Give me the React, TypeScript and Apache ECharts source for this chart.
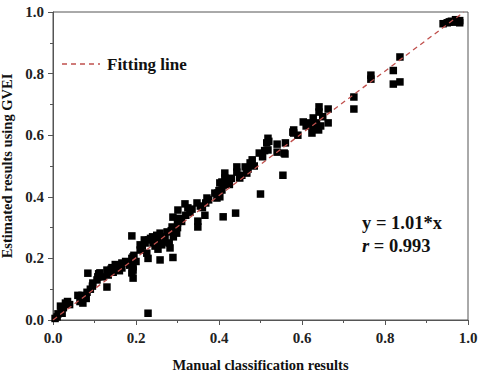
import React, { useEffect, useRef } from "react";
import * as echarts from "echarts";

const xTicks = [0.0, 0.2, 0.4, 0.6, 0.8, 1.0];
const slope = 1.01;
const fitLabel = "Fitting line";
const equationText = "y = 1.01*x";
const rText = "0.993";

const points: number[][] = [
  [0.005, 0.005], [0.01, 0.01], [0.012, 0.02], [0.02, 0.03], [0.018, 0.045], [0.025, 0.04], [0.03, 0.055], [0.035, 0.06], [0.022, 0.022], [0.04, 0.05],
  [0.06, 0.08], [0.065, 0.06], [0.07, 0.08], [0.072, 0.055], [0.08, 0.07], [0.082, 0.09], [0.084, 0.152], [0.09, 0.1], [0.095, 0.11], [0.096, 0.12],
  [0.106, 0.13], [0.108, 0.14], [0.11, 0.15], [0.113, 0.153], [0.12, 0.14], [0.13, 0.162], [0.13, 0.107], [0.133, 0.146], [0.14, 0.165], [0.142, 0.17],
  [0.145, 0.155], [0.15, 0.18], [0.154, 0.178], [0.16, 0.16], [0.166, 0.185], [0.166, 0.169], [0.175, 0.19], [0.185, 0.178], [0.19, 0.153], [0.19, 0.2],
  [0.19, 0.273], [0.193, 0.173], [0.193, 0.136], [0.193, 0.162], [0.193, 0.205], [0.195, 0.21], [0.2, 0.19],
  [0.21, 0.244], [0.21, 0.227], [0.215, 0.24], [0.22, 0.26], [0.222, 0.25], [0.226, 0.217], [0.229, 0.2], [0.229, 0.022], [0.23, 0.26], [0.235, 0.265],
  [0.24, 0.27], [0.241, 0.25], [0.245, 0.255], [0.246, 0.24], [0.25, 0.275], [0.253, 0.23], [0.255, 0.26], [0.258, 0.282], [0.258, 0.195], [0.262, 0.244],
  [0.265, 0.253], [0.27, 0.27], [0.275, 0.286], [0.28, 0.25], [0.282, 0.234], [0.285, 0.29], [0.287, 0.302], [0.289, 0.334], [0.289, 0.203], [0.29, 0.27],
  [0.298, 0.282], [0.3, 0.315], [0.3, 0.3],
  [0.301, 0.357], [0.305, 0.33], [0.31, 0.32], [0.318, 0.377], [0.32, 0.34], [0.325, 0.364], [0.33, 0.35], [0.335, 0.36], [0.347, 0.38], [0.349, 0.321],
  [0.349, 0.302], [0.355, 0.37], [0.36, 0.365], [0.366, 0.34], [0.368, 0.38], [0.371, 0.396], [0.375, 0.39], [0.39, 0.412], [0.395, 0.396], [0.397, 0.412],
  [0.402, 0.4], [0.4, 0.42],
  [0.407, 0.422], [0.41, 0.438], [0.41, 0.335], [0.402, 0.445], [0.407, 0.448], [0.414, 0.461], [0.414, 0.477], [0.42, 0.455], [0.425, 0.44], [0.43, 0.46],
  [0.44, 0.347], [0.443, 0.48], [0.443, 0.497], [0.45, 0.461], [0.455, 0.47], [0.463, 0.497], [0.467, 0.477], [0.47, 0.49], [0.475, 0.51], [0.48, 0.52],
  [0.485, 0.5], [0.497, 0.542], [0.5, 0.409],
  [0.505, 0.53], [0.51, 0.55], [0.515, 0.575], [0.518, 0.59], [0.518, 0.552], [0.52, 0.58], [0.54, 0.571], [0.54, 0.545], [0.554, 0.47], [0.557, 0.542],
  [0.559, 0.539], [0.56, 0.575], [0.578, 0.61], [0.58, 0.617], [0.58, 0.607], [0.59, 0.6],
  [0.603, 0.643], [0.61, 0.63], [0.62, 0.64], [0.624, 0.607], [0.627, 0.656], [0.627, 0.623], [0.635, 0.64], [0.64, 0.617], [0.641, 0.675], [0.641, 0.692],
  [0.645, 0.63], [0.65, 0.66], [0.663, 0.685], [0.663, 0.64],
  [0.725, 0.724], [0.725, 0.685], [0.766, 0.795], [0.766, 0.782], [0.82, 0.81], [0.82, 0.766], [0.836, 0.773], [0.836, 0.854],
  [0.94, 0.962], [0.95, 0.965], [0.955, 0.968], [0.96, 0.97], [0.965, 0.967], [0.97, 0.975], [0.975, 0.97], [0.98, 0.965], [0.98, 0.972],
];

const FONT = "'Liberation Serif', 'Times New Roman', serif";

export default function App() {
  const ref = useRef<HTMLDivElement>(null);
  useEffect(() => {
    if (!ref.current) return;
    const chart = echarts.init(ref.current, null, { renderer: "svg" });
    const axisCommon = {
      min: xTicks[0],
      max: xTicks[xTicks.length - 1],
      interval: 0.2,
      nameLocation: "middle" as const,
      nameTextStyle: { fontFamily: FONT, fontWeight: "bold", fontSize: 14.5, color: "#111" },
      axisLine: { show: true, onZero: false, lineStyle: { color: "#555", width: 1 } },
      axisTick: { show: true, inside: false, length: 5, lineStyle: { color: "#555" } },
      minorTick: { show: true, splitNumber: 2, length: 3, lineStyle: { color: "#555" } },
      splitLine: { show: false },
      axisLabel: {
        fontFamily: FONT,
        fontWeight: "bold",
        fontSize: 15,
        color: "#222",
        formatter: (v: number) => v.toFixed(1),
      },
    };
    chart.setOption({
      animation: false,
      backgroundColor: "#fff",
      grid: {
        left: 53,
        right: 12,
        top: 12,
        bottom: 51,
        show: true,
        borderColor: "#555",
        borderWidth: 1,
        containLabel: false,
        outerBoundsMode: "none",
      },
      xAxis: {
        ...axisCommon,
        type: "value",
        name: "Manual classification results",
        nameGap: 37,
        axisLabel: { ...axisCommon.axisLabel, margin: 10 },
      },
      yAxis: {
        ...axisCommon,
        type: "value",
        name: "Estimated results using GVEI",
        nameGap: 34,
        axisLabel: { ...axisCommon.axisLabel, margin: 9 },
      },
      series: [
        {
          type: "scatter",
          data: points,
          symbol: "rect",
          symbolSize: 7.5,
          itemStyle: { color: "#000", opacity: 1 },
          z: 2,
        },
        {
          type: "line",
          name: fitLabel,
          data: [
            [0, 0],
            [1 / slope, 1],
          ],
          showSymbol: false,
          symbol: "none",
          lineStyle: { color: "#c0504d", width: 1.3, type: [5, 4] },
          z: 3,
        },
      ],
      graphic: [
        {
          type: "line",
          shape: { x1: 62, y1: 64, x2: 100, y2: 64 },
          style: { stroke: "#c0504d", lineWidth: 1.3, lineDash: [5, 4] },
        },
        {
          type: "text",
          x: 107,
          y: 64,
          style: {
            text: fitLabel,
            fontFamily: FONT,
            fontWeight: "bold",
            fontSize: 17,
            fill: "#111",
            verticalAlign: "middle",
          },
        },
        {
          type: "text",
          x: 362,
          y: 223,
          style: {
            text: equationText,
            fontFamily: FONT,
            fontWeight: "bold",
            fontSize: 18.5,
            fill: "#111",
            verticalAlign: "middle",
          },
        },
        {
          type: "text",
          x: 362,
          y: 246,
          style: {
            text: "{i|r} = " + rText,
            fontFamily: FONT,
            fontWeight: "bold",
            fontSize: 18.5,
            fill: "#111",
            verticalAlign: "middle",
            rich: {
              i: { fontFamily: FONT, fontWeight: "bold", fontStyle: "italic", fontSize: 18.5, fill: "#111" },
            },
          },
        },
      ],
    });
    return () => chart.dispose();
  }, []);
  return (
    <div
      ref={ref}
      style={{ position: "fixed", left: 0, top: 0, width: 480, height: 371, background: "#fff" }}
    />
  );
}
